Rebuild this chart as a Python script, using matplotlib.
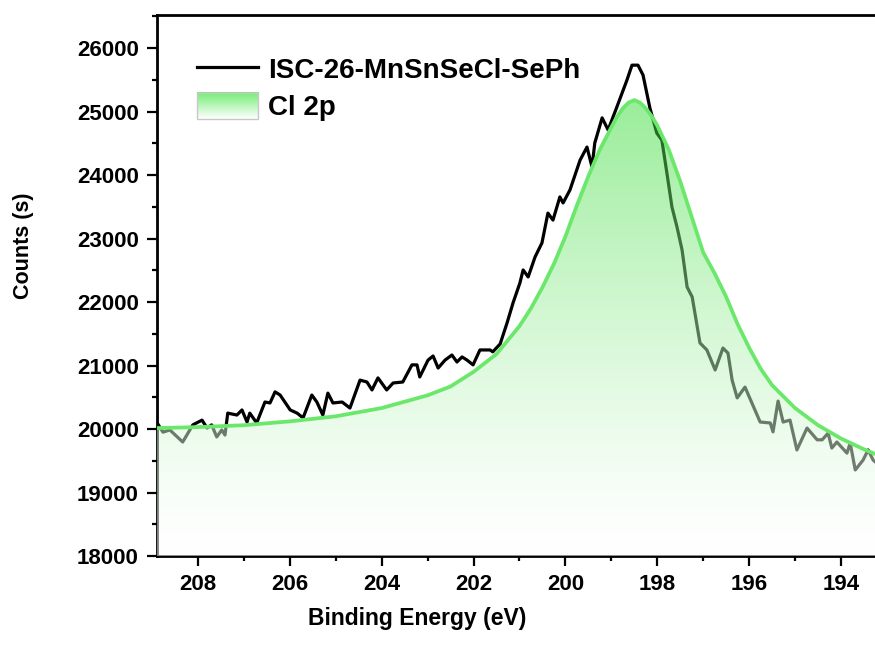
import numpy as np
import matplotlib
matplotlib.use("Agg")
import matplotlib.pyplot as plt
from matplotlib.legend_handler import HandlerBase
from matplotlib.image import BboxImage
from matplotlib.transforms import Bbox, TransformedBbox
from matplotlib.patches import Rectangle
from matplotlib.lines import Line2D
from matplotlib.ticker import MultipleLocator

# measured spectrum (binding energy in eV, counts)
be = [208.89, 208.76, 208.61, 208.33, 208.11, 207.91, 207.80, 207.70, 207.59, 207.48,
      207.41, 207.35, 207.15, 207.04, 206.93, 206.87, 206.72, 206.54, 206.43, 206.32,
      206.21, 205.99, 205.84, 205.71, 205.52, 205.41, 205.28, 205.17, 205.06, 204.86,
      204.69, 204.47, 204.32, 204.21, 204.08, 203.89, 203.75, 203.54, 203.34, 203.23,
      203.17, 202.99, 202.88, 202.77, 202.62, 202.47, 202.36, 202.25, 202.14, 202.01,
      201.86, 201.64, 201.58, 201.42, 201.27, 201.14, 200.99, 200.92, 200.81, 200.66,
      200.51, 200.38, 200.27, 200.12, 200.05, 199.90, 199.68, 199.53, 199.42, 199.36,
      199.20, 199.07, 198.88, 198.66, 198.55, 198.42, 198.31, 198.16, 198.01, 197.90,
      197.79, 197.68, 197.57, 197.46, 197.35, 197.24, 197.07, 196.92, 196.74, 196.57,
      196.46, 196.37, 196.26, 196.09, 195.76, 195.54, 195.48, 195.37, 195.26, 195.11,
      194.96, 194.74, 194.52, 194.41, 194.28, 194.20, 194.09, 193.87, 193.80, 193.69,
      193.52, 193.41, 193.30, 193.20]
counts = [20100, 19950, 19985, 19795, 20065, 20140, 20015, 20065, 19875, 19985,
          19905, 20250, 20220, 20300, 20110, 20250, 20095, 20425, 20410, 20585,
          20535, 20300, 20250, 20175, 20535, 20425, 20220, 20565, 20410, 20425,
          20330, 20770, 20740, 20615, 20805, 20615, 20725, 20740, 21010, 21010,
          20820, 21085, 21150, 20960, 21085, 21165, 21055, 21135, 21085, 21010,
          21245, 21245, 21215, 21340, 21670, 21985, 22300, 22505, 22395, 22710,
          22930, 23400, 23290, 23655, 23560, 23765, 24235, 24440, 24125, 24505,
          24900, 24710, 25070, 25495, 25730, 25730, 25575, 25055, 24660, 24550,
          24030, 23495, 23180, 22820, 22235, 22080, 21355, 21245, 20930, 21275,
          21195, 20770, 20490, 20660, 20110, 20095, 19955, 20440, 20110, 20140,
          19670, 20015, 19830, 19830, 19935, 19700, 19795, 19620, 19780, 19355,
          19510, 19670, 19510, 19450]

# Cl 2p fitted component
fit_be = [208.89, 208.0, 207.0, 206.0, 205.0, 204.0, 203.0, 202.5, 202.0, 201.5,
          201.0, 200.75, 200.5, 200.25, 200.0, 199.75, 199.5, 199.25, 199.0, 198.875,
          198.75, 198.625, 198.5, 198.375, 198.25, 198.125, 198.0, 197.75, 197.5, 197.25,
          197.0, 196.75, 196.5, 196.25, 196.0, 195.75, 195.5, 195.0, 194.5, 194.0,
          193.5, 193.2]
fit_counts = [20015, 20030, 20060, 20120, 20200, 20330, 20530, 20670, 20900, 21180,
              21620, 21900, 22230, 22600, 23030, 23520, 23980, 24400, 24750, 24920,
              25050, 25140, 25180, 25140, 25050, 24930, 24780, 24400, 23900, 23340,
              22780, 22450, 22080, 21650, 21280, 20950, 20690, 20330, 20060, 19850,
              19680, 19590]

y_bottom = 18000
y_top = 26520
x_left = 208.89
x_right = 193.26

plt.rcParams["font.family"] = ["Liberation Sans", "DejaVu Sans"]
plt.rcParams["font.weight"] = "bold"


class GradientHandler(HandlerBase):
    def create_artists(self, legend, orig_handle, xdescent, ydescent,
                       width, height, fontsize, trans):
        bb = TransformedBbox(Bbox.from_bounds(-xdescent, -ydescent, width, height), trans)
        im = BboxImage(bb, interpolation="bilinear")
        t = np.linspace(1, 0, 64)[:, None, None]
        top = np.array([0.45, 0.93, 0.45, 1.0])
        bot = np.array([1.0, 1.0, 1.0, 1.0])
        im.set_data(t * top + (1 - t) * bot)
        edge = Rectangle((-xdescent, -ydescent), width, height, fill=False,
                         edgecolor="#c8c8c8", lw=1.0, transform=trans)
        return [im, edge]


fig = plt.figure(figsize=(8.75, 6.45), dpi=100)
ax = fig.add_axes([157 / 875, 1 - 556 / 645, 1 - 157 / 875, (556 - 15) / 645])

ax.plot(be, counts, color="black", lw=2.3, zorder=2)

poly = ax.fill_between(fit_be, fit_counts, y_bottom, facecolor="none", edgecolor="none")
t = np.linspace(0, 1, 256)[:, None, None] ** 1.3
green = np.array([0.2, 0.86, 0.2, 0.5])
white = np.array([1.0, 1.0, 1.0, 0.5])
grad = t * green + (1 - t) * white
img = ax.imshow(grad, extent=[x_left, x_right, y_bottom, max(fit_counts)],
                origin="lower", aspect="auto", interpolation="bilinear", zorder=3)
img.set_clip_path(poly.get_paths()[0], transform=ax.transData)

ax.plot(fit_be, fit_counts, color="#6BE86B", lw=2.7, zorder=4)

ax.set_xlim(x_left, x_right)
ax.set_ylim(y_bottom, y_top)

ax.xaxis.set_major_locator(MultipleLocator(2))
ax.xaxis.set_minor_locator(MultipleLocator(1))
ax.yaxis.set_major_locator(MultipleLocator(1000))
ax.yaxis.set_minor_locator(MultipleLocator(500))

ax.spines["right"].set_visible(False)
for s in ["left", "bottom", "top"]:
    ax.spines[s].set_linewidth(2.0)
ax.tick_params(which="major", direction="out", length=7, width=1.6)
ax.tick_params(which="minor", direction="out", length=3.5, width=1.6)
ax.tick_params(axis="y", labelsize=16, pad=6)
ax.tick_params(axis="x", labelsize=16, pad=6)

ax.set_xlabel("Binding Energy (eV)", fontsize=16.5, fontweight="bold")
ax.xaxis.set_label_coords(0.362, -0.095)
ax.set_ylabel("Counts (s)", fontsize=15.5, fontweight="bold")
ax.yaxis.set_label_coords(-0.172, 0.573)

line_handle = Line2D([], [], color="black", lw=2.3)
fill_handle = Rectangle((0, 0), 1, 1)
ax.legend([line_handle, fill_handle], ["ISC-26-MnSnSeCl-SePh", "Cl 2p"],
          handler_map={fill_handle: GradientHandler()},
          loc="upper left", bbox_to_anchor=(0.0557, 0.925), frameon=False,
          borderpad=0, borderaxespad=0, fontsize=20, handlelength=2.2,
          handleheight=1.1, handletextpad=0.35, labelspacing=0.3)

fig.savefig("out.png", dpi=100)
